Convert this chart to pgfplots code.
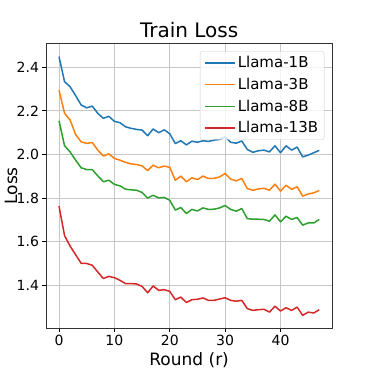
\documentclass[border=0pt]{standalone}
\usepackage{pgfplots}
\pgfplotsset{compat=1.18}
\usepackage{pgfplotstable}
\usepackage{fontspec}
\setmainfont{DejaVu Sans}
\definecolor{tabblue}{HTML}{1F77B4}
\definecolor{taborange}{HTML}{FF7F0E}
\definecolor{tabgreen}{HTML}{2CA02C}
\definecolor{tabred}{HTML}{D62728}
\pgfplotstableread{
x a b c d
0 2.449 2.295 2.155 1.763
1 2.334 2.189 2.040 1.628
2 2.311 2.158 2.012 1.580
3 2.270 2.092 1.974 1.540
4 2.227 2.058 1.939 1.501
5 2.214 2.051 1.931 1.500
6 2.222 2.055 1.931 1.492
7 2.189 2.020 1.902 1.461
8 2.166 1.993 1.875 1.431
9 2.175 2.003 1.882 1.441
10 2.152 1.982 1.863 1.435
11 2.146 1.974 1.856 1.423
12 2.127 1.964 1.841 1.408
13 2.120 1.957 1.838 1.408
14 2.115 1.954 1.836 1.406
15 2.112 1.948 1.826 1.395
16 2.086 1.926 1.800 1.366
17 2.117 1.951 1.813 1.397
18 2.100 1.939 1.801 1.377
19 2.113 1.947 1.803 1.380
20 2.095 1.941 1.790 1.372
21 2.050 1.882 1.745 1.334
22 2.063 1.901 1.757 1.346
23 2.044 1.875 1.729 1.321
24 2.061 1.893 1.748 1.334
25 2.056 1.885 1.741 1.336
26 2.063 1.901 1.755 1.342
27 2.060 1.890 1.748 1.331
28 2.066 1.891 1.749 1.331
29 2.069 1.897 1.755 1.337
30 2.081 1.913 1.766 1.343
31 2.056 1.887 1.748 1.331
32 2.052 1.879 1.740 1.327
33 2.062 1.890 1.752 1.331
34 2.023 1.844 1.706 1.293
35 2.010 1.836 1.703 1.285
36 2.017 1.842 1.703 1.288
37 2.020 1.845 1.702 1.290
38 2.012 1.836 1.694 1.277
39 2.040 1.864 1.723 1.304
40 2.008 1.832 1.691 1.282
41 2.040 1.859 1.717 1.297
42 2.020 1.840 1.702 1.285
43 2.034 1.852 1.711 1.300
44 1.989 1.809 1.676 1.262
45 1.997 1.819 1.686 1.277
46 2.008 1.824 1.686 1.273
47 2.019 1.835 1.702 1.288
}\loss
\begin{document}
\begin{tikzpicture}
\path[use as bounding box] (0,0) rectangle (369pt,369pt);
\begin{axis}[
  at={(46pt,40.7pt)}, anchor=south west,
  scale only axis, width=286.3pt, height=285pt,
  xmin=-2.35, xmax=49.35, ymin=1.2028, ymax=2.510,
  xtick={0,10,20,30,40},
  ytick={1.4,1.6,1.8,2.0,2.2,2.4},
  yticklabel style={/pgf/number format/.cd,fixed,fixed zerofill,precision=1},
  /pgf/number format/assume math mode=true,
  tick align=outside, tick pos=left,
  major tick length=3.5pt,
  every tick/.style={black, line width=0.8pt},
  tick label style={font=\fontsize{14}{16}\selectfont},
  grid=major,
  major grid style={black!22, line width=0.8pt},
  axis line style={black!80, line width=0.8pt},
  title={Train Loss},
  title style={font=\fontsize{20}{24}\selectfont, yshift=-4pt},
  xlabel={Round (r)},
  ylabel={Loss},
  label style={font=\fontsize{17}{20}\selectfont},
  ylabel style={at={(axis description cs:-0.088,0.5)}, anchor=south},
  legend style={at={(axis description cs:0.972,0.972)}, anchor=north east,
    font=\fontsize{15}{17}\selectfont, draw=black!20, rounded corners=2pt,
    fill=white, fill opacity=0.8, text opacity=1, draw opacity=1,
    row sep=4.8pt, inner xsep=4pt, inner ysep=3pt},
  legend cell align=left,
  legend image code/.code={\draw[#1, line width=1.6pt, opacity=1] (0pt,0pt) -- (30pt,0pt);},
  every axis plot/.append style={line width=1.5pt, line join=round},
]
\addplot[tabblue, no markers] table[x=x,y=a] {\loss};
\addlegendentry{Llama-1B}
\addplot[taborange, no markers] table[x=x,y=b] {\loss};
\addlegendentry{Llama-3B}
\addplot[tabgreen, no markers] table[x=x,y=c] {\loss};
\addlegendentry{Llama-8B}
\addplot[tabred, no markers] table[x=x,y=d] {\loss};
\addlegendentry{Llama-13B}
\end{axis}
\end{tikzpicture}
\end{document}
